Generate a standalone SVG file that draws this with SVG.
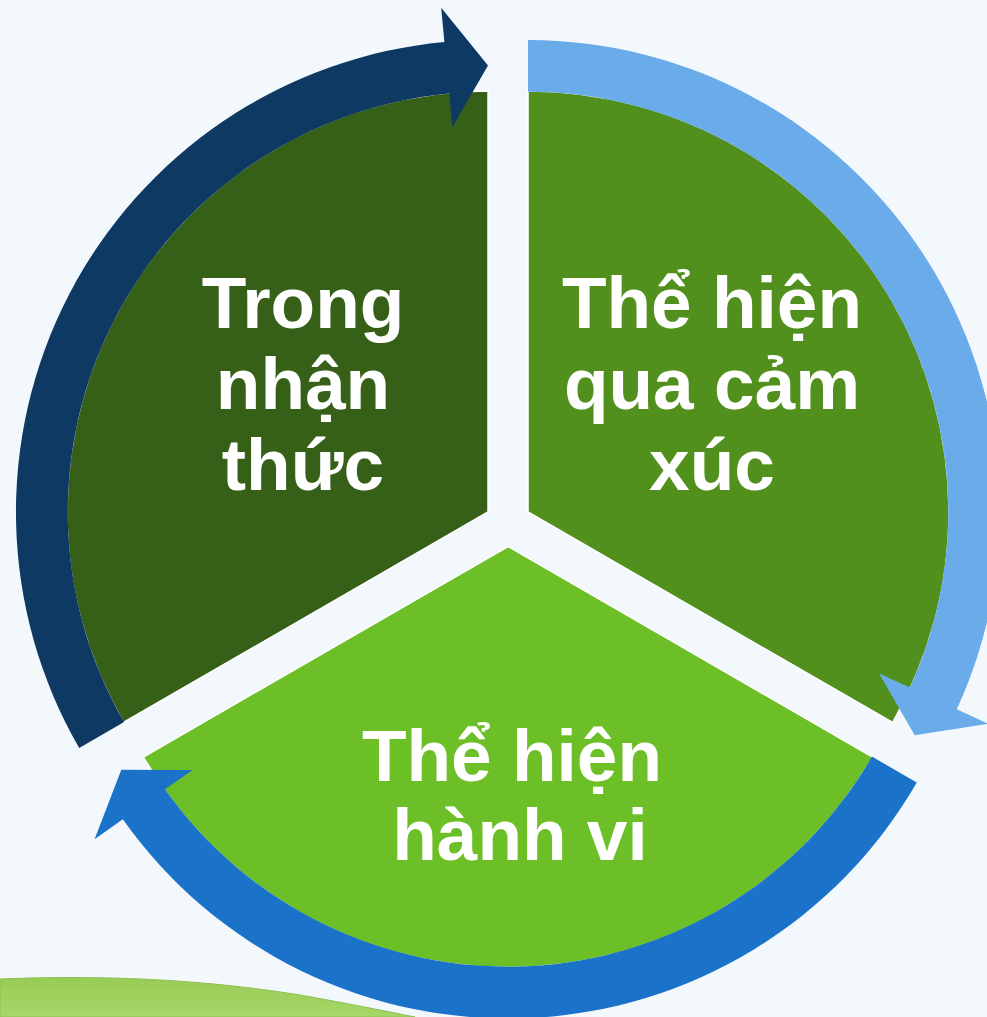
<svg xmlns="http://www.w3.org/2000/svg" width="987" height="1017" viewBox="0 0 987 1017">
<defs>
<style>
.sector{stroke:#ffffff;stroke-width:1.5}
.label{font-family:"Liberation Sans",Arial,sans-serif;font-weight:bold;font-size:73px;fill:#ffffff;text-anchor:middle}
</style>
<linearGradient id="grass" x1="0" y1="0" x2="0" y2="1">
<stop offset="0" stop-color="#98cc55"/>
<stop offset="1" stop-color="#a6d768"/>
</linearGradient>
</defs>
<rect width="987" height="1017" fill="#f3f8fd"/>
<path d="M0,979 C120,974 220,982 300,995 C340,1002 380,1010 415,1017 L0,1017 Z" fill="url(#grass)" stroke="#8fbf52" stroke-width="1"/>
<g id="node-nhan-thuc">
<path class="sector" d="M488,512 L123.4,722.5 A421,421 0 0 1 488,91 Z" fill="#365f17"/>
<text class="label" x="303" y="328">Trong</text>
<text class="label" x="303" y="409">nhận</text>
<text class="label" x="303" y="490">thức</text>
</g>
<g id="node-cam-xuc">
<path class="sector" d="M528,512 L528,91 A421,421 0 0 1 892.6,722.5 Z" fill="#52901e"/>
<text class="label" x="712" y="328">Thể hiện</text>
<text class="label" x="712" y="409">qua cảm</text>
<text class="label" x="712" y="490">xúc</text>
</g>
<g id="node-hanh-vi">
<path class="sector" d="M508,546.5 L872.6,757 A421,421 0 0 1 143.4,757 Z" fill="#6cbf27"/>
<text class="label" x="512" y="781">Thể hiện</text>
<text class="label" x="520" y="860">hành vi</text>
</g>
<g id="connectors">
<path d="M79.2,748 A472,472 0 0 1 444.4,42 L441.2,7.7 L488,65.5 L452.3,127.2 L449.2,93.6 A420.2,420.2 0 0 0 124.1,722.1 Z" fill="#0e3962"/>
<path d="M528,40 A472,472 0 0 1 956.8,709.2 L988.2,723.7 L914.7,735.3 L879.1,673.5 L909.8,687.6 A420.2,420.2 0 0 0 528,91.8 Z" fill="#6aabea"/>
<path d="M916.8,782.5 A472,472 0 0 1 122.8,819.3 L94.6,839.2 L121.3,769.75 L192.6,769.9 L165.1,789.3 A420.2,420.2 0 0 0 871.9,756.6 Z" fill="#1b72c9"/>
</g>
</svg>
